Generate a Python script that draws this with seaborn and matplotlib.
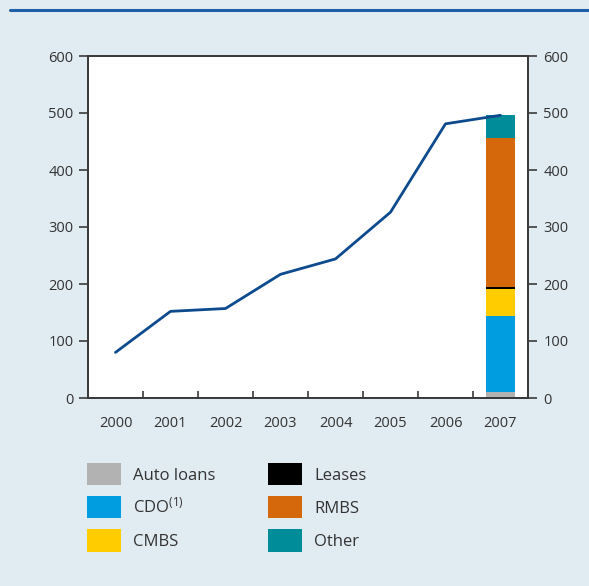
import numpy as np
import pandas as pd
import matplotlib
matplotlib.use("Agg")
import matplotlib.pyplot as plt
from matplotlib.patches import Patch
from matplotlib.lines import Line2D
import seaborn as sns

# ---- data ----
years = ["2000", "2001", "2002", "2003", "2004", "2005", "2006", "2007"]
line_values = [80, 152, 157, 217, 244, 326, 481, 496]

segments = ["Auto loans", "CDO$^{(1)}$", "CMBS", "Leases", "RMBS", "Other"]
seg_values_2007 = [11, 133, 47, 4, 262, 39]
seg_colors = ["#b2b2b2", "#009ee0", "#ffcc00", "#000000", "#d4680b", "#008c99"]

y_ticks = [0, 100, 200, 300, 400, 500, 600]

# ---- style ----
sns.set_theme(style="white")
plt.rcParams["font.family"] = ["Open Sans", "DejaVu Sans"]
plt.rcParams["mathtext.fontset"] = "custom"
plt.rcParams["mathtext.rm"] = "Open Sans"
plt.rcParams["mathtext.it"] = "Open Sans"

bg = "#e1ecf2"
text_c = "#333333"
spine_c = "#3a3a3a"

fig = plt.figure(figsize=(5.89, 5.86), dpi=100, facecolor=bg)
ax = fig.add_axes([88/589, 1-398/586, 440/589, 342/586])
ax.set_facecolor("white")

# top decorative line
fig.add_artist(Line2D([10/589, 1], [1-10/586, 1-10/586], color="#1f5ea8", lw=2.2,
                      transform=fig.transFigure))

# stacked bar for 2007 (draw cumulative sums from top down)
cum = np.cumsum(seg_values_2007)
for i in range(len(segments) - 1, -1, -1):
    vals = [0]*(len(years)-1) + [cum[i]]
    df = pd.DataFrame({"year": years, "v": vals})
    sns.barplot(data=df, x="year", y="v", order=years, color=seg_colors[i],
                width=0.51, saturation=1, linewidth=0, ax=ax, zorder=2)

# line
ldf = pd.DataFrame({"pos": np.arange(len(years)), "v": line_values})
sns.lineplot(data=ldf, x="pos", y="v", color="#0d4a8e", linewidth=2, ax=ax, zorder=3)

ax.set_xlim(-0.5, len(years) - 0.5)
ax.set_ylim(0, 600)
ax.set_xlabel("")
ax.set_ylabel("")

fs = 10.5
ax.set_xticks(np.arange(len(years)))
ax.set_xticklabels(years)
ax.set_xticks(np.arange(0.5, len(years) - 1), minor=True)
ax.tick_params(axis="x", which="major", length=0, pad=13, labelsize=fs, labelcolor=text_c)
ax.tick_params(axis="x", which="minor", direction="in", length=5, width=1.2, color=spine_c, bottom=True)

ax.set_yticks(y_ticks)
ax.tick_params(axis="y", which="major", direction="out", length=6.5, width=1.2, color=spine_c,
               left=True, labelsize=fs, labelcolor=text_c, pad=4)

ax2 = ax.twinx()
ax2.set_ylim(0, 600)
ax2.set_yticks(y_ticks)
ax2.tick_params(axis="y", which="major", direction="out", length=6.5, width=1.2, color=spine_c,
                right=True, labelsize=fs, labelcolor=text_c, pad=4.5)

for a in (ax, ax2):
    for s in a.spines.values():
        s.set_color(spine_c)
        s.set_linewidth(1.3)
        s.set_visible(True)

# legend
lfs = 12
handles = [Patch(facecolor=c, edgecolor="none", label=l) for l, c in zip(segments, seg_colors)]
leg = fig.legend(handles=handles, ncol=2, loc="upper left",
                 bbox_to_anchor=(87/589, 1-463/586), frameon=False,
                 fontsize=lfs, handlelength=34/16.7, handleheight=1.67,
                 handletextpad=0.7, labelspacing=0.66, columnspacing=3.2,
                 borderpad=0, borderaxespad=0)
for t in leg.get_texts():
    t.set_color(text_c)

fig.savefig("out.png", dpi=100, facecolor=bg)
